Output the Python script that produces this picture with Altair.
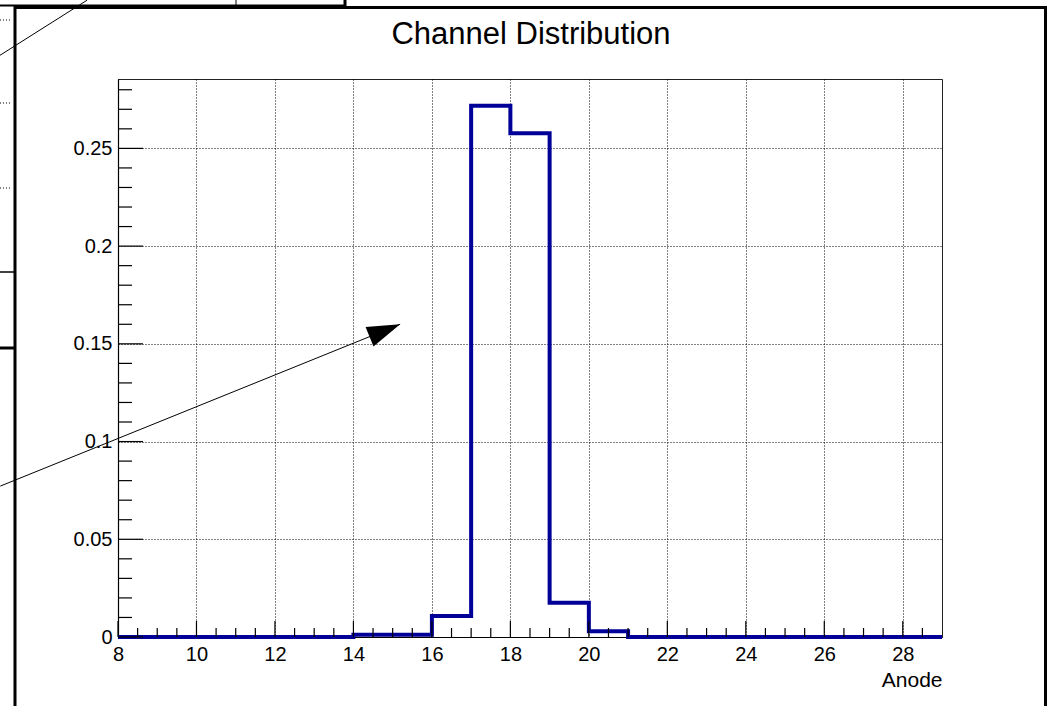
import math
import altair as alt
import pandas as pd

# ---------------- data ----------------
bin_low = list(range(8, 29))  # lower bin edges, unit width, 8 .. 28
fractions = [0, 0, 0, 0, 0, 0,
             0.0012, 0.0012, 0.0108, 0.2718, 0.2577, 0.0175, 0.0030,
             0, 0, 0, 0, 0, 0, 0, 0]
x_major = [8, 10, 12, 14, 16, 18, 20, 22, 24, 26, 28]
x_minor = [v / 2 for v in range(17, 58) if v % 4 != 0]
y_major = [0, 0.05, 0.1, 0.15, 0.2, 0.25]
y_minor = [i / 100 for i in range(1, 29) if i % 5 != 0]
arrow_start = [5.0, 0.0772]
arrow_tip = [15.19, 0.160]
bg_line_start = [4.99, 0.2976]
bg_line_end = [7.21, 0.3258]
title_text = "Channel Distribution"

# ---------------- layout ----------------
W, H = 824, 558
X_DOM = [8, 29]
Y_DOM = [0, 0.2855]
FONT = "Liberation Sans"
HIST_COLOR = "#000099"

xs = alt.Scale(domain=X_DOM, nice=False, zero=False)
ys = alt.Scale(domain=Y_DOM, nice=False, zero=False)

hist_df = pd.DataFrame({
    "anode": bin_low + [X_DOM[1]],
    "frac": fractions + [fractions[-1]],
})

x_axis = alt.Axis(
    values=x_major, format="d", grid=True, gridDash=[1, 2], gridColor="black",
    gridOpacity=1, tickSize=0, labelFontSize=20, labelFont=FONT,
    labelColor="black", labelPadding=7, labelFlush=False,
    domainColor="black", domainWidth=1.2,
    title="Anode", titleFont=FONT, titleFontSize=21, titleFontWeight="normal",
    titleColor="black", titleX=W, titleY=49, titleAlign="right",
    titleBaseline="alphabetic", titleAnchor="end",
)
y_axis = alt.Axis(
    values=y_major, format="~g", grid=True, gridDash=[1, 2], gridColor="black",
    gridOpacity=1, tickSize=0, labelFontSize=20, labelFont=FONT,
    labelColor="black", labelPadding=6, labelFlush=False,
    domainColor="black", domainWidth=1.2,
    title=None,
)

hist = alt.Chart(hist_df).mark_line(
    interpolate="step-after", color=HIST_COLOR, strokeWidth=4, clip=False
).encode(
    x=alt.X("anode:Q", scale=xs, axis=x_axis),
    y=alt.Y("frac:Q", scale=ys, axis=y_axis),
)

# inward ROOT-style ticks
def xticks(vals, length):
    return alt.Chart(pd.DataFrame({"anode": vals})).mark_rule(
        color="black", strokeWidth=1.2
    ).encode(x=alt.X("anode:Q", scale=xs), y=alt.value(H), y2=alt.value(H - length))

def yticks(vals, length):
    return alt.Chart(pd.DataFrame({"frac": vals})).mark_rule(
        color="black", strokeWidth=1.2
    ).encode(y=alt.Y("frac:Q", scale=ys), x=alt.value(0), x2=alt.value(length))

# arrow annotation
seg_df = pd.DataFrame({
    "anode": [arrow_start[0], bg_line_start[0]],
    "anode2": [arrow_tip[0], bg_line_end[0]],
    "frac": [arrow_start[1], bg_line_start[1]],
    "frac2": [arrow_tip[1], bg_line_end[1]],
})
segments = alt.Chart(seg_df).mark_rule(color="black", strokeWidth=1, clip=False).encode(
    x=alt.X("anode:Q", scale=xs), x2="anode2:Q",
    y=alt.Y("frac:Q", scale=ys), y2="frac2:Q",
)
px_x = W / (X_DOM[1] - X_DOM[0])
px_y = H / (Y_DOM[1] - Y_DOM[0])
ang = math.degrees(math.atan2((arrow_tip[1] - arrow_start[1]) * px_y,
                              (arrow_tip[0] - arrow_start[0]) * px_x))
head_angle = (360 - ang) % 360
head = alt.Chart(pd.DataFrame({"anode": [arrow_tip[0]], "frac": [arrow_tip[1]]})).mark_point(
    shape="M0,0L-2,-0.64L-2,0.64Z", filled=True, color="black", size=1089,
    opacity=1, strokeWidth=0, angle=head_angle, clip=False,
).encode(x=alt.X("anode:Q", scale=xs), y=alt.Y("frac:Q", scale=ys))

# surrounding canvas/window frame decorations (pixel offsets from plot origin)
one = pd.DataFrame({"d": [0]})
L, T = 118, 79
def hline(y, x1, x2, w, dash=None):
    kw = dict(color="black", strokeWidth=w)
    if dash:
        kw["strokeDash"] = dash
    return alt.Chart(one).mark_rule(**kw).encode(
        x=alt.value(x1 - L), x2=alt.value(x2 - L), y=alt.value(y - T))
def vline(x, y1, y2, w):
    return alt.Chart(one).mark_rule(color="black", strokeWidth=w).encode(
        x=alt.value(x - L), y=alt.value(y1 - T), y2=alt.value(y2 - T))

decor = [
    hline(5.5, 0, 345, 2),
    vline(236, 0, 6, 1),
    vline(345, 0, 7, 3),
    hline(272, 0, 15, 1.5),
    hline(348, 0, 15, 3),
    hline(20, 0, 12, 1, [1, 2]),
    hline(103, 0, 12, 1, [1, 2]),
    hline(188, 0, 12, 1, [1, 2]),
    hline(7.5, 14, 1047, 3),
    vline(15, 6, 706, 3),
    vline(1045.5, 6, 706, 3),
]

title = alt.Chart(one).mark_text(
    text=title_text, font=FONT, fontSize=31, color="black",
    align="center", baseline="alphabetic",
).encode(x=alt.value(W / 2 + 1), y=alt.value(-35.5))

chart = alt.layer(
    hist,
    xticks(x_major, 16), xticks(x_minor, 9),
    yticks(y_major, 25), yticks(y_minor, 14),
    segments, head, title,
    *decor,
).properties(
    width=W, height=H,
    autosize=alt.AutoSizeParams(type="none"),
    padding={"left": L, "top": T, "right": 1048 - L - W, "bottom": 706 - T - H},
    background="white",
).configure_view(stroke="#222", strokeWidth=1)

chart.save("out.html", embed_options={"renderer": "svg", "actions": False})
